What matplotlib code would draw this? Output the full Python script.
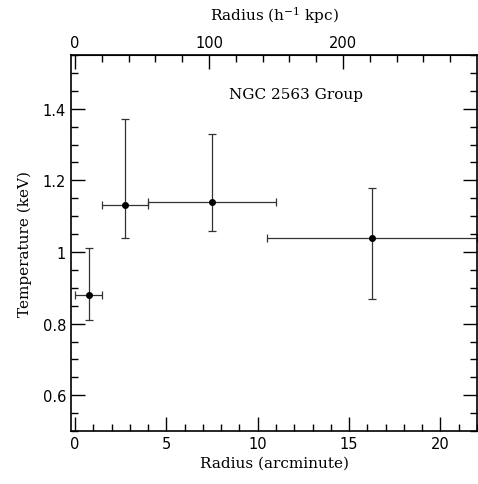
import numpy as np
import matplotlib
matplotlib.use("Agg")
import matplotlib.pyplot as plt
from matplotlib.ticker import MultipleLocator, FixedLocator

# data
radius = [0.75, 2.75, 7.5, 16.25]          # arcmin
radius_err = [0.75, 1.25, 3.5, 5.75]
temp = [0.88, 1.13, 1.14, 1.04]            # keV
temp_lo = [0.81, 1.04, 1.06, 0.87]
temp_hi = [1.01, 1.37, 1.33, 1.18]

kpc_per_arcmin = 13.64
kpc_major = [0, 100, 200]
kpc_minor = [20, 40, 60, 80, 120, 140, 160, 180, 220, 240, 260, 280]

plt.rcParams['mathtext.fontset'] = 'dejavuserif'
serif = 'DejaVu Serif'

fig = plt.figure(figsize=(4.78, 4.85), dpi=100)
ax = fig.add_axes([0.1485, 0.109, 0.8495, 0.7755])

t = np.array(temp)
yerr = [t - np.array(temp_lo), np.array(temp_hi) - t]
ax.errorbar(radius, temp, xerr=radius_err, yerr=yerr, fmt='o', color='black',
            ms=4, elinewidth=0.9, capsize=3, capthick=0.9, ecolor='#333333')

ax.set_xlim(-0.22, 22)
ax.set_ylim(0.5, 1.55)
ax.xaxis.set_major_locator(MultipleLocator(5))
ax.xaxis.set_minor_locator(MultipleLocator(1))
ax.yaxis.set_major_locator(MultipleLocator(0.2))
ax.yaxis.set_minor_locator(MultipleLocator(0.05))
ax.yaxis.set_major_formatter(plt.FuncFormatter(lambda v, p: ('%g' % round(v, 2))))
ax.tick_params(which='both', direction='in', right=True, labelsize=10.5)
ax.tick_params(which='major', length=10, width=1)
ax.tick_params(which='minor', length=5, width=1)
for s in ax.spines.values():
    s.set_linewidth(1.2)

sec = ax.secondary_xaxis('top', functions=(lambda x: x * kpc_per_arcmin,
                                           lambda k: k / kpc_per_arcmin))
sec.xaxis.set_major_locator(FixedLocator(kpc_major))
sec.xaxis.set_minor_locator(FixedLocator(kpc_minor))
sec.tick_params(which='both', direction='in', labelsize=10.5)
sec.tick_params(which='major', length=10, width=1)
sec.tick_params(which='minor', length=5, width=1)
sec.set_xlabel('Radius (h$^{-1}$ kpc)', family=serif, fontsize=11, labelpad=11)

ax.set_xlabel('Radius (arcminute)', family=serif, fontsize=11, labelpad=3)
ax.set_ylabel('Temperature (keV)', family=serif, fontsize=11, labelpad=8)
ax.text(8.4, 1.43, 'NGC 2563 Group', family=serif, fontsize=11)

fig.savefig('out.png', dpi=100)
